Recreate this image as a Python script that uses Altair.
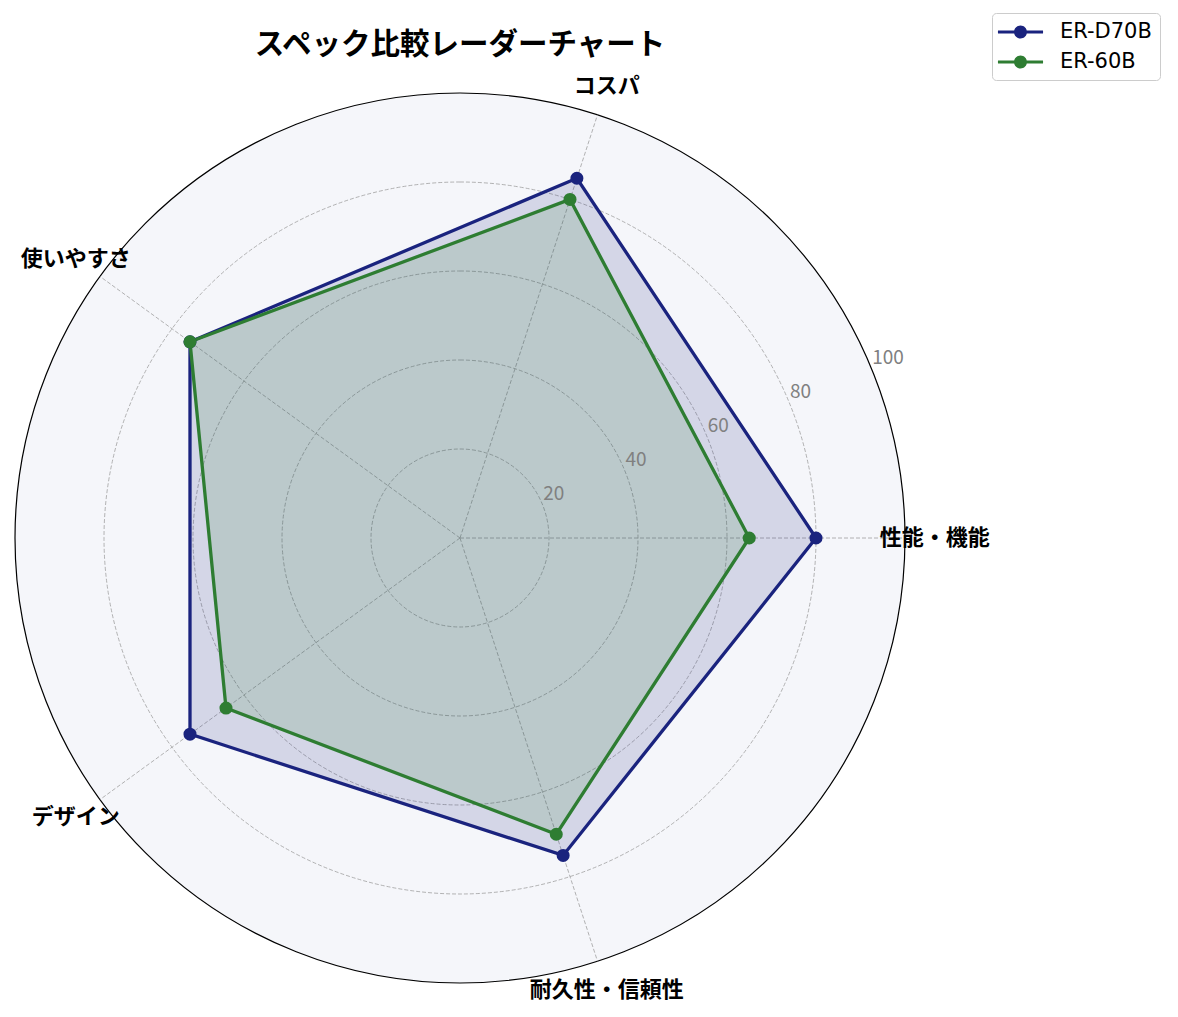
import altair as alt
import pandas as pd

categories = ["性能・機能", "コスパ", "使いやすさ", "デザイン", "耐久性・信頼性"]
series_names = ["ER-D70B", "ER-60B"]
er_d70b = [80, 85, 75, 75, 75]
er_60b = [65, 80, 75, 65, 70]
series_colors = ["#1a237e", "#2e7d32"]
grid_values = [20, 40, 60, 80]
tick_values = [20, 40, 60, 80, 100]
r_max = 100

FONT = "Noto Sans CJK JP"
n = len(categories)

# closed polygon table: first category repeated at the end
rows = []
for name, vals in zip(series_names, [er_d70b, er_60b]):
    for i in range(n + 1):
        k = i % n
        rows.append({"series": name, "idx": i, "category": categories[k], "value": vals[k]})
poly = pd.DataFrame(rows)
cats = pd.DataFrame({"idx": list(range(n)), "category": categories})

angle = f"datum.idx * 2 * PI / {n}"
xy_scale = alt.Scale(domain=[-r_max, r_max], nice=False, zero=False)
r_scale = alt.Scale(type="linear", domain=[0, r_max], range=[0, 445], zero=True)
color_scale = alt.Scale(domain=series_names, range=series_colors)

X = lambda f: alt.X(f, scale=xy_scale, axis=None)
Y = lambda f: alt.Y(f, scale=xy_scale, axis=None)

bg = alt.Chart(pd.DataFrame({"r": [r_max]})).mark_arc(
    fill="#f5f6fa", stroke="black", strokeWidth=1.2
).encode(
    x=alt.X(datum=0, scale=xy_scale, axis=None),
    y=alt.Y(datum=0, scale=xy_scale, axis=None),
    theta=alt.value(0), theta2=alt.value(6.2832),
    radius=alt.Radius("r:Q", scale=r_scale, stack=None),
)

rings = alt.Chart(pd.DataFrame({"r": grid_values})).mark_arc(
    filled=False, stroke="#a0a0a0", strokeWidth=0.8, strokeDash=[4, 2]
).encode(
    x=alt.X(datum=0, scale=xy_scale, axis=None),
    y=alt.Y(datum=0, scale=xy_scale, axis=None),
    theta=alt.value(0), theta2=alt.value(6.2832),
    radius=alt.Radius("r:Q", scale=r_scale, stack=None),
)

spokes = alt.Chart(cats).transform_calculate(
    a=angle, x0="0", y0="0",
    x1=f"{r_max} * cos(datum.a)", y1=f"{r_max} * sin(datum.a)",
).mark_rule(stroke="#a0a0a0", strokeWidth=0.8, strokeDash=[4, 2]).encode(
    x=X("x0:Q"), y=Y("y0:Q"), x2="x1:Q", y2="y1:Q"
)

def polar(chart):
    return chart.transform_calculate(
        a=angle, x="datum.value * cos(datum.a)", y="datum.value * sin(datum.a)"
    )

fills = []
for name, col in zip(series_names, series_colors):
    fills.append(
        polar(alt.Chart(poly).transform_filter(alt.datum.series == name))
        .mark_line(fill=col, fillOpacity=0.15, strokeOpacity=0)
        .encode(x=X("x:Q"), y=Y("y:Q"), order="idx:Q")
    )

# line-with-marker legend glyph (path drawn wider than the nominal symbol box)
legend = alt.Legend(
    title=None, orient="none", legendX=977, legendY=-80,
    symbolType="M-2.05,-0.145H2.05V0.145H-2.05Z M0.59,0A0.59,0.59 0 1 1 -0.59,0A0.59,0.59 0 1 1 0.59,0Z",
    symbolSize=484, symbolStrokeWidth=0, symbolOpacity=1, symbolOffset=9.5,
    labelFont="DejaVu Sans", labelFontSize=21, labelOffset=28.5, rowPadding=9,
    padding=8, strokeColor="#cccccc", fillColor="white", cornerRadius=4,
)

lines = polar(alt.Chart(poly)).mark_line(strokeWidth=3.3).encode(
    x=X("x:Q"), y=Y("y:Q"), order="idx:Q",
    stroke=alt.Stroke("series:N", scale=color_scale, legend=legend),
)

points = polar(alt.Chart(poly).transform_filter(alt.datum.idx < n)).mark_point(
    filled=True, size=170, opacity=1
).encode(
    x=X("x:Q"), y=Y("y:Q"),
    color=alt.Color("series:N", scale=color_scale, legend=legend),
)

cat_labels = alt.Chart(cats).transform_calculate(
    a=angle, x="106.7 * cos(datum.a)", y="106.7 * sin(datum.a)"
).mark_text(
    font=FONT, fontSize=22, fontWeight="bold", align="center", baseline="middle", color="black"
).encode(x=X("x:Q"), y=Y("y:Q"), text="category:N")

tick_labels = alt.Chart(pd.DataFrame({"r": tick_values})).transform_calculate(
    x="datum.r * cos(PI / 8)", y="datum.r * sin(PI / 8)"
).mark_text(
    font=FONT, fontSize=19, align="left", baseline="middle", dx=1, dy=-10, color="#808080"
).encode(x=X("x:Q"), y=Y("y:Q"), text="r:Q")

chart = alt.layer(
    bg, rings, spokes, *fills, lines, points, tick_labels, cat_labels
).properties(
    width=890, height=890,
    autosize=alt.AutoSizeParams(type="none"),
    padding={"left": 7, "top": 85, "right": 260, "bottom": 20},
    title=alt.Title(
        "スペック比較レーダーチャート", font=FONT, fontSize=29.5, fontWeight="bold",
        anchor="middle", offset=-48, color="black",
    ),
).configure(font=FONT).configure_view(stroke="transparent", strokeWidth=0)

chart.save("out.html", embed_options={"renderer": "svg", "actions": False})
